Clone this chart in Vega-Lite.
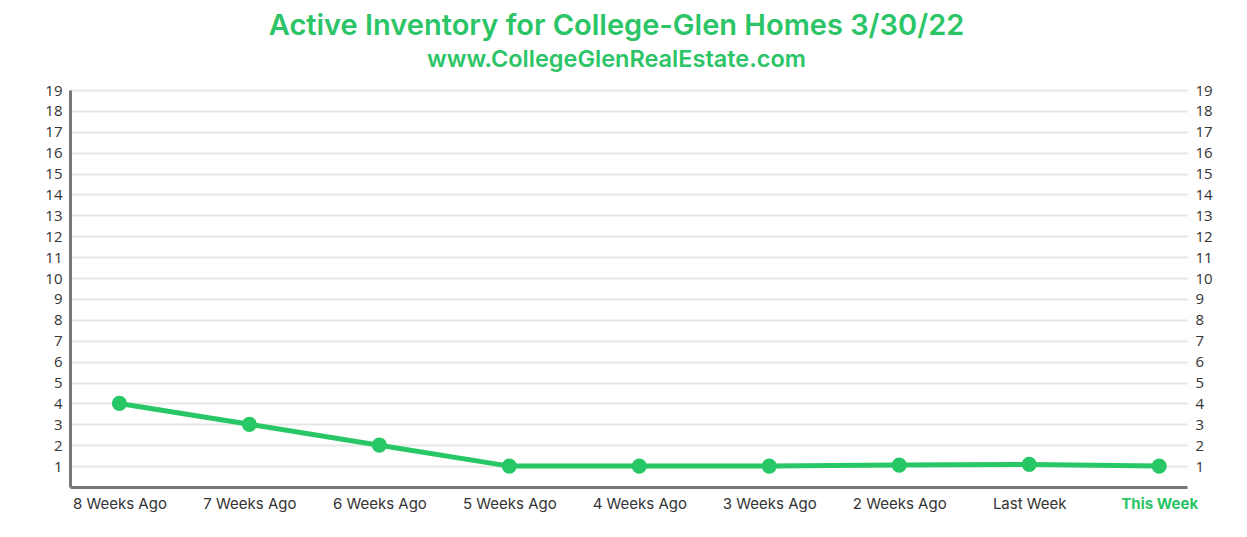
{
  "$schema": "https://vega.github.io/schema/vega-lite/v6.json",
  "width": 1117,
  "height": 397,
  "autosize": {"type": "none"},
  "padding": {"left": 70, "top": 90, "right": 60, "bottom": 50},
  "background": "white",
  "title": {
    "text": "Active Inventory for College-Glen Homes 3/30/22",
    "subtitle": "www.CollegeGlenRealEstate.com",
    "anchor": "middle",
    "frame": "group",
    "font": "Inter",
    "fontSize": 29,
    "fontWeight": 600,
    "color": "#2bc466",
    "subtitleFont": "Inter",
    "subtitleFontSize": 23.5,
    "subtitleFontWeight": 600,
    "subtitleColor": "#2bc466",
    "subtitlePadding": 7,
    "offset": 12,
    "dx": -12
  },
  "data": {
    "values": [
      {"week": "8 Weeks Ago", "count": 4},
      {"week": "7 Weeks Ago", "count": 3},
      {"week": "6 Weeks Ago", "count": 2},
      {"week": "5 Weeks Ago", "count": 1},
      {"week": "4 Weeks Ago", "count": 1},
      {"week": "3 Weeks Ago", "count": 1},
      {"week": "2 Weeks Ago", "count": 1.05},
      {"week": "Last Week", "count": 1.08},
      {"week": "This Week", "count": 1}
    ]
  },
  "config": {
    "view": {"stroke": null}
  },
  "encoding": {
    "x": {
      "field": "week",
      "type": "ordinal",
      "sort": null,
      "scale": {"type": "point", "padding": 0.297, "align": 0.64},
      "axis": {
        "title": null,
        "labelAngle": 0,
        "labelFont": "Inter",
        "labelFontSize": 15,
        "labelColor": {"condition": {"test": "datum.value == 'This Week'", "value": "#2bc466"}, "value": "#333333"},
        "labelFontWeight": {"condition": {"test": "datum.value == 'This Week'", "value": "bold"}, "value": "normal"},
        "labelPadding": 9,
        "ticks": false,
        "grid": false,
        "domainColor": "#777777",
        "domainWidth": 3
      }
    },
    "y": {
      "field": "count",
      "type": "quantitative",
      "scale": {"domain": [0, 19], "nice": false},
      "axis": {
        "title": null,
        "values": [1,2,3,4,5,6,7,8,9,10,11,12,13,14,15,16,17,18,19],
        "labelFont": "Open Sans",
        "labelFontSize": 15,
        "labelColor": "#333333",
        "labelPadding": 8,
        "ticks": false,
        "gridColor": "#e6e6e6",
        "gridWidth": 2,
        "domainColor": "#777777",
        "domainWidth": 3
      }
    }
  },
  "layer": [
    {
      "mark": {"type": "line", "color": "#28c765", "strokeWidth": 5}
    },
    {
      "mark": {"type": "point", "filled": true, "opacity": 1, "color": "#28c765", "size": 230},
      "encoding": {
        "y": {
          "field": "count",
          "type": "quantitative",
          "axis": {
            "orient": "right",
            "title": null,
            "values": [1,2,3,4,5,6,7,8,9,10,11,12,13,14,15,16,17,18,19],
            "labelFont": "Open Sans",
            "labelFontSize": 15,
            "labelColor": "#333333",
            "labelPadding": 8,
            "ticks": false,
            "grid": false,
            "domain": false
          }
        }
      }
    }
  ],
  "resolve": {"axis": {"y": "independent"}}
}
